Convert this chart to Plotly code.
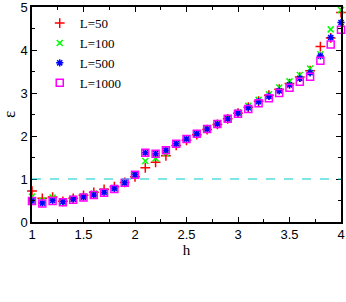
import plotly.graph_objects as go

h = [1.0, 1.1, 1.2, 1.3, 1.4, 1.5, 1.6, 1.7, 1.8, 1.9, 2.0, 2.1, 2.2, 2.3, 2.4, 2.5,
     2.6, 2.7, 2.8, 2.9, 3.0, 3.1, 3.2, 3.3, 3.4, 3.5, 3.6, 3.7, 3.8, 3.9, 4.0]

eps_L50 = [0.72, 0.55, 0.58, 0.48, 0.55, 0.62, 0.69, 0.76, 0.82, 0.92, 1.05, 1.26, 1.39, 1.54, 1.78, 1.90,
           2.03, 2.15, 2.27, 2.40, 2.53, 2.67, 2.81, 2.95, 3.09, 3.22, 3.37, 3.52, 4.08, 4.28, 4.87]
eps_L100 = [0.59, 0.50, 0.57, 0.47, 0.54, 0.60, 0.66, 0.71, 0.79, 0.91, 1.08, 1.42, 1.48, 1.60, 1.82, 1.93,
            2.05, 2.17, 2.29, 2.41, 2.55, 2.70, 2.84, 2.97, 3.13, 3.27, 3.42, 3.57, 3.90, 4.48, 4.93]
eps_L500 = [0.49, 0.44, 0.50, 0.47, 0.53, 0.58, 0.63, 0.69, 0.78, 0.91, 1.10, 1.61, 1.59, 1.67, 1.82, 1.93,
            2.05, 2.16, 2.28, 2.40, 2.53, 2.66, 2.80, 2.92, 3.05, 3.19, 3.34, 3.47, 3.86, 4.29, 4.64]
eps_L1000 = [0.49, 0.43, 0.49, 0.46, 0.52, 0.57, 0.63, 0.68, 0.77, 0.91, 1.10, 1.61, 1.59, 1.67, 1.82, 1.93,
             2.05, 2.16, 2.28, 2.40, 2.52, 2.63, 2.76, 2.88, 3.00, 3.12, 3.26, 3.38, 3.75, 4.13, 4.47]

series = [
    ("L=50", eps_L50, "#ff0000", "cross-thin-open", 7),
    ("L=100", eps_L100, "#00ff00", "x-thin-open", 6),
    ("L=500", eps_L500, "#0000ff", "asterisk-open", 6),
    ("L=1000", eps_L1000, "#ff00ff", "square-open", 7),
]

fig = go.Figure()
for name, ys, col, sym, sz in series:
    fig.add_trace(go.Scatter(
        x=h, y=ys, mode="markers", name=name, cliponaxis=False,
        marker=dict(symbol=sym, size=sz, color=col, line=dict(color=col, width=1.5)),
    ))

fig.add_shape(type="line", xref="x", yref="y", x0=1, x1=4, y0=1, y1=1,
              line=dict(color="#00cccc", width=1.2, dash="dash"))

axis_common = dict(
    showgrid=False, zeroline=False, showline=True, linecolor="black", linewidth=1.5,
    mirror="allticks", ticks="inside", ticklen=5, tickcolor="black", tickwidth=1,
    automargin=False, ticklabeloverflow="allow",
    tickfont=dict(family="Liberation Sans, Arial, sans-serif", size=13, color="black"),
)

fig.update_layout(
    width=346, height=302,
    margin=dict(l=32, r=5, t=7, b=80),
    paper_bgcolor="white", plot_bgcolor="white",
    showlegend=True,
    legend=dict(x=0.025, y=0.995, xanchor="left", yanchor="top",
                bgcolor="rgba(0,0,0,0)", borderwidth=0, itemwidth=30,
                font=dict(family="Liberation Serif, Times New Roman, serif", size=13, color="black"),
                tracegroupgap=0),
    xaxis=dict(range=[1, 4], tickvals=[1, 1.5, 2, 2.5, 3, 3.5, 4],
               title=dict(text="h", font=dict(family="Liberation Serif, serif", size=15, color="black"), standoff=0),
               minor=dict(ticks="inside", ticklen=3, tickcolor="black", tickwidth=1,
                          tickvals=[1.25, 1.75, 2.25, 2.75, 3.25, 3.75]),
               **axis_common),
    yaxis=dict(range=[0, 5], tickvals=[0, 1, 2, 3, 4, 5],
               title=dict(text="ε", font=dict(family="Liberation Serif, serif", size=17, color="black"), standoff=8),
               minor=dict(ticks="inside", ticklen=3, tickcolor="black", tickwidth=1,
                          tickvals=[0.5, 1.5, 2.5, 3.5, 4.5]),
               **axis_common),
)

fig.write_html("out.html", config={"displayModeBar": False},
               post_script="document.body.style.margin='0';")
